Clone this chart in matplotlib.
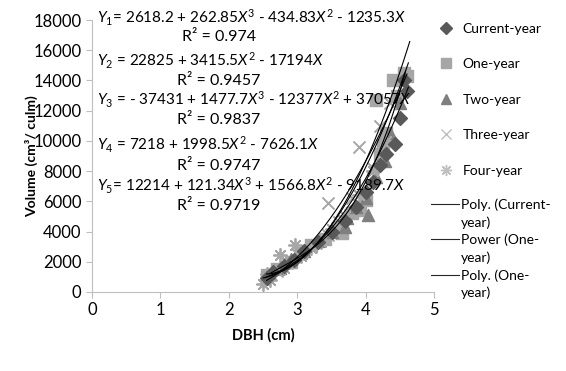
import numpy as np
import matplotlib
matplotlib.use("Agg")
import matplotlib.pyplot as plt
from matplotlib.lines import Line2D

plt.rcParams['font.family'] = ['Lato', 'DejaVu Sans']
plt.rcParams['mathtext.fontset'] = 'custom'
plt.rcParams['mathtext.rm'] = 'Lato'
plt.rcParams['mathtext.it'] = 'Lato:italic'

# data
cur_x = [2.55, 2.65, 2.8, 2.95, 3.1, 3.3, 3.5, 3.7, 3.85, 4.0, 4.1, 4.2, 4.3, 4.42, 4.5, 4.6, 4.55]
cur_y = [900, 1300, 1700, 2100, 2700, 3300, 4000, 4700, 5600, 6600, 7300, 8400, 9100, 9800, 11500, 13300, 14000]

one_x = [2.55, 2.7, 2.9, 3.05, 3.2, 3.4, 3.6, 3.8, 3.92, 4.0, 4.15, 4.2, 4.3, 4.4, 4.45, 4.55, 4.6, 4.25, 3.65]
one_y = [1100, 1500, 2000, 2600, 3100, 3500, 4300, 5200, 5400, 6100, 12700, 9100, 10500, 14000, 13000, 14500, 14300, 9700, 3900]

two_x = [2.6, 2.75, 2.9, 3.1, 3.3, 3.5, 3.7, 3.85, 4.0, 4.03, 4.15, 4.28, 4.35, 4.5, 3.72]
two_y = [1200, 1600, 2200, 2700, 3400, 4000, 4300, 5600, 6200, 5100, 7600, 8700, 10500, 12500, 4900]

three_x = [2.55, 2.7, 2.85, 3.0, 3.2, 3.45, 3.45, 3.6, 3.8, 3.9, 4.1, 4.2, 4.35, 4.45]
three_y = [1000, 1400, 1900, 2500, 3000, 5900, 3800, 4600, 6200, 9600, 8200, 11000, 12500, 14000]

four_x = [2.5, 2.55, 2.6, 2.75, 2.8, 2.97, 3.05, 3.2, 3.35, 3.5, 3.7, 3.9, 4.1, 4.3]
four_y = [500, 1200, 800, 2450, 1600, 3100, 2400, 2900, 3300, 4200, 5000, 6400, 8000, 10000]

# trendline coefficients (from the equations printed on the chart), highest power first
coef_1 = [262.85, -434.83, -1235.3, 2618.2]
coef_2 = [3415.5, -17194, 22825]
coef_3 = [1477.7, -12377, 37057, -37431]
coef_4 = [1998.5, -7626.1, 7218]
coef_5 = [121.34, 1566.8, -9189.7, 12214]

eq_texts = [
    (r"$\it{Y}_\mathregular{1}$= 2618.2 + 262.85$\it{X}^\mathregular{3}$ - 434.83$\it{X}^\mathregular{2}$ - 1235.3$\it{X}$", "R² = 0.974"),
    (r"$\it{Y}_\mathregular{2}$ = 22825 + 3415.5$\it{X}^\mathregular{2}$ - 17194$\it{X}$", "R² = 0.9457"),
    (r"$\it{Y}_\mathregular{3}$ = - 37431 + 1477.7$\it{X}^\mathregular{3}$ - 12377$\it{X}^\mathregular{2}$ + 37057$\it{X}$", "R² = 0.9837"),
    (r"$\it{Y}_\mathregular{4}$ = 7218 + 1998.5$\it{X}^\mathregular{2}$ - 7626.1$\it{X}$", "R² = 0.9747"),
    (r"$\it{Y}_\mathregular{5}$= 12214 + 121.34$\it{X}^\mathregular{3}$ + 1566.8$\it{X}^\mathregular{2}$ - 9189.7$\it{X}$", "R² = 0.9719"),
]

fig = plt.figure(figsize=(5.66, 3.71), dpi=100)
ax = fig.add_axes([0.1625, 0.213, 0.605, 0.733])

ast = (8, 2, 0)
ax.scatter(one_x, one_y, marker='s', s=80, color='#a6a6a6', zorder=2)
ax.scatter(two_x, two_y, marker='^', s=75, color='#7f7f7f', zorder=2)
ax.scatter(three_x, three_y, marker='x', s=75, color='#a6a6a6', linewidths=1.4, zorder=2)
ax.scatter(four_x, four_y, marker=ast, s=90, color='#a6a6a6', linewidths=1.3, zorder=2)
ax.scatter(cur_x, cur_y, marker='D', s=50, color='#595959', zorder=2)

for c, (lo, hi) in zip([coef_1, coef_2, coef_3, coef_4, coef_5],
                       [(2.55, 4.62), (2.55, 4.64), (2.6, 4.58), (2.55, 4.6), (2.5, 4.62)]):
    xs = np.linspace(lo, hi, 100)
    ax.plot(xs, np.polyval(c, xs), color='black', lw=0.8, zorder=3)

ax.set_xlim(0, 5)
ax.set_ylim(0, 18000)
ax.set_xticks(range(0, 6))
ax.set_yticks(range(0, 18001, 2000))
for s in ['top', 'right']:
    ax.spines[s].set_visible(False)
for s in ['left', 'bottom']:
    ax.spines[s].set_color('#bfbfbf')
ax.tick_params(colors='#bfbfbf', labelcolor='black', labelsize=12, length=4)
ax.set_xlabel("DBH (cm)", fontsize=10.5, fontweight='bold', labelpad=7)
ax.set_ylabel("Volume (cm³/ culm)", fontsize=10, fontweight='bold', labelpad=-3)

# equations
eq_y = [1.007, 0.849, 0.706, 0.540, 0.390]
r_y = [0.937, 0.775, 0.632, 0.463, 0.316]
for (eq, r2), yy, ry in zip(eq_texts, eq_y, r_y):
    ax.text(0.015, yy, eq, transform=ax.transAxes, fontsize=11, ha='left', va='center')
    ax.text(0.37, ry, r2, transform=ax.transAxes, fontsize=11.5, ha='center', va='center')

mk_handles = [
    Line2D([], [], ls='', marker='D', ms=6, color='#595959'),
    Line2D([], [], ls='', marker='s', ms=7.5, color='#a6a6a6'),
    Line2D([], [], ls='', marker='^', ms=7.5, color='#7f7f7f'),
    Line2D([], [], ls='', marker='x', ms=7, mew=1, color='#bfbfbf'),
    Line2D([], [], ls='', marker=ast, ms=8, mew=1, color='#bfbfbf'),
]
mk_labels = ["Current-year", "One-year", "Two-year", "Three-year", "Four-year"]
fig.legend(mk_handles, mk_labels, loc='upper left', bbox_to_anchor=(0.752, 0.973),
           frameon=False, fontsize=10, labelspacing=1.7, handlelength=1.2,
           handletextpad=0.55)

blank = Line2D([], [], ls='', marker='')
ln = Line2D([], [], color='#262626', lw=0.8)
ln_handles = [ln, blank, ln, blank, ln, blank]
ln_labels = ["Poly. (Current-", "year)", "Power (One-", "year)", "Poly. (One-", "year)"]
fig.legend(ln_handles, ln_labels, loc='upper left', bbox_to_anchor=(0.739, 0.499),
           frameon=False, fontsize=10, labelspacing=0.37, handlelength=2.0,
           handletextpad=0.15)

fig.savefig("out.png", dpi=100)
